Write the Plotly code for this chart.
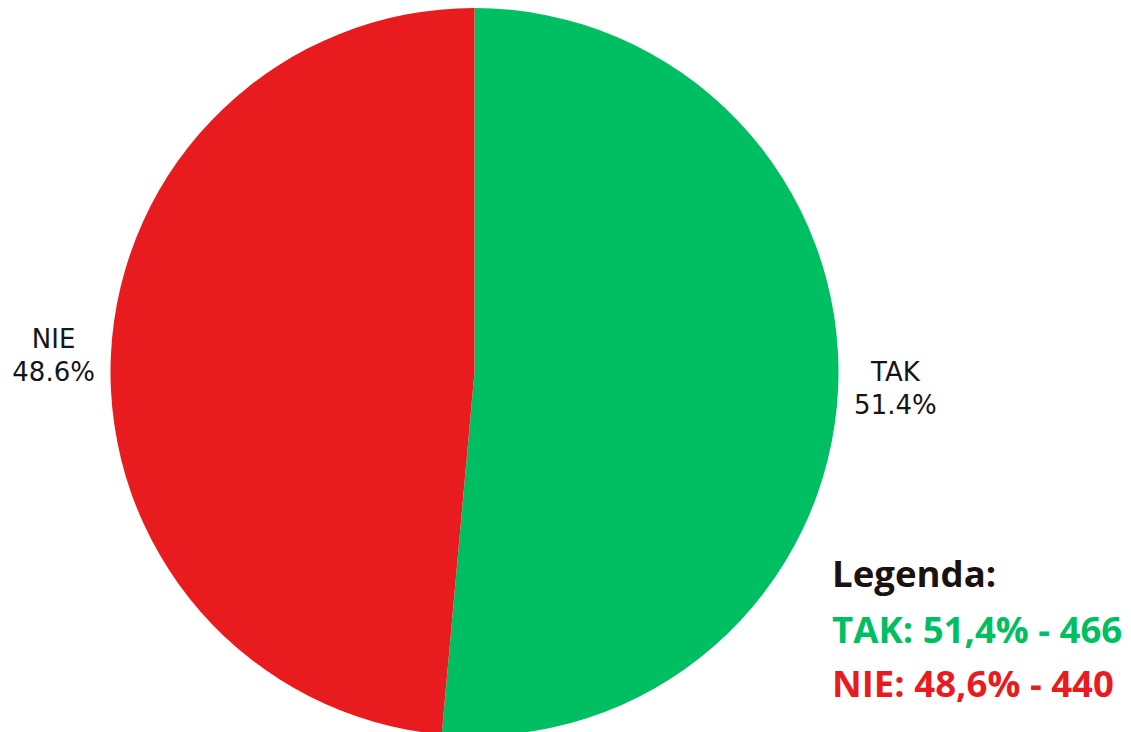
import plotly.graph_objects as go

labels = ["TAK", "NIE"]
counts = [466, 440]
colors = ["#00BF63", "#E81C1E"]
legend_title = "Legenda:"
legend_lines = ["TAK: 51,4% - 466", "NIE: 48,6% - 440"]

W, H = 1131, 732
ML, MR, MT, MB = 0, 0, 0, 4
PW, PH = W - ML - MR, H - MT - MB


def px(x):
    return (x - ML) / PW


def py(y):
    return 1 - (y - MT) / PH


fig = go.Figure(go.Pie(
    labels=labels,
    values=counts,
    marker=dict(colors=colors, line=dict(width=0)),
    sort=False,
    direction="clockwise",
    rotation=0,
    textinfo="label+percent",
    textposition="outside",
    automargin=False,
    textfont=dict(family="DejaVu Sans", size=26, color="#151515"),
    domain=dict(x=[px(466.5 - 380), px(466.5 + 380)], y=[0, 1]),
    showlegend=False,
))

ann_font = dict(family="Open Sans", size=36.6)
fig.add_annotation(x=px(822), y=py(565), xref="paper", yref="paper",
                   text=f"<b>{legend_title}</b>", showarrow=False,
                   xanchor="left", yanchor="middle",
                   font=dict(color="#1a1110", **ann_font))
for i, (t, c) in enumerate(zip(legend_lines, colors)):
    fig.add_annotation(x=px(822), y=py(621 + 54 * i), xref="paper", yref="paper",
                       text=f"<b>{t}</b>", showarrow=False,
                       xanchor="left", yanchor="middle",
                       font=dict(color=c, **ann_font))

fig.update_layout(
    width=W, height=H,
    showlegend=False,
    margin=dict(l=ML, r=MR, t=MT, b=MB, autoexpand=False),
    paper_bgcolor="white",
    plot_bgcolor="white",
)
fig.write_html("out.html")
